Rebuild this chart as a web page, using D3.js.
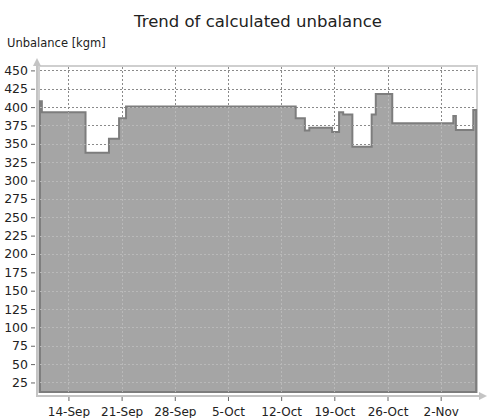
<!DOCTYPE html>
<html>
<head>
<meta charset="utf-8">
<script src="https://d3js.org/d3.v7.min.js"></script>
<style>
body { margin: 0; background: #fff; }
svg { font-family: "DejaVu Sans", Verdana, sans-serif; }
</style>
</head>
<body>
<svg id="chart" width="489" height="418"></svg>
<script>
// step change times and the unbalance value from that time on
var stepTimes = ['2020-09-10T06:00', '2020-09-10T12:00', '2020-09-16T06:00', '2020-09-19T08:00',
  '2020-09-20T16:00', '2020-09-21T14:00', '2020-10-13T22:00', '2020-10-15T03:00',
  '2020-10-15T17:00', '2020-10-18T17:00', '2020-10-19T15:00', '2020-10-20T04:00',
  '2020-10-21T09:00', '2020-10-23T22:00', '2020-10-24T11:00', '2020-10-26T15:00',
  '2020-11-03T16:00', '2020-11-04T00:00', '2020-11-06T07:00', '2020-11-06T16:00']
var stepValues = [408, 393, 338, 357, 385, 401, 385, 368, 372, 366, 393, 390,
  346, 390, 418, 378, 388, 369, 396, 396]
var xTickLabels = ['14-Sep', '21-Sep', '28-Sep', '5-Oct', '12-Oct', '19-Oct', '26-Oct', '2-Nov']
var yTicks = [25, 50, 75, 100, 125, 150, 175, 200, 225, 250, 275, 300, 325, 350, 375, 400, 425, 450]

var parseTime = d3.timeParse('%Y-%m-%dT%H:%M')
var data = stepTimes.map(function (t, i) { return { date: parseTime(t), value: stepValues[i] } })
var tickDates = xTickLabels.map(function (s) { return d3.timeParse('%d-%b-%Y')(s + '-2020') })

var pLeft = 39, pRight = 477, pTop = 66, pBottom = 392

var x = d3.scaleTime()
  .domain([parseTime('2020-09-10T03:00'), parseTime('2020-11-06T18:45')])
  .range([pLeft, pRight])
var y = d3.scaleLinear().domain([12, 456]).range([pBottom, pTop])

var svg = d3.select('#chart')

// title and y label
svg.append('text')
  .attr('x', 258).attr('y', 27)
  .attr('text-anchor', 'middle')
  .attr('font-size', 16.5)
  .attr('fill', '#222')
  .text('Trend of calculated unbalance')

svg.append('text')
  .attr('x', 7).attr('y', 47)
  .attr('font-size', 11.5)
  .attr('fill', '#222')
  .text('Unbalance [kgm]')

// plot border
svg.append('rect')
  .attr('x', pLeft).attr('y', pTop)
  .attr('width', pRight - pLeft).attr('height', pBottom - pTop)
  .attr('fill', '#fff')
  .attr('stroke', '#cfcfcf')
  .attr('stroke-width', 2)

function drawGrid(g, color) {
  g.selectAll('.hg').data(yTicks).enter().append('line')
    .attr('x1', pLeft + 1).attr('x2', pRight - 1)
    .attr('y1', function (d) { return Math.round(y(d)) + 0.5 })
    .attr('y2', function (d) { return Math.round(y(d)) + 0.5 })
  g.selectAll('.vg').data(tickDates).enter().append('line')
    .attr('y1', pTop + 1).attr('y2', pBottom)
    .attr('x1', function (d) { return Math.round(x(d)) + 0.5 })
    .attr('x2', function (d) { return Math.round(x(d)) + 0.5 })
  g.selectAll('line')
    .attr('stroke', color)
    .attr('stroke-width', 1)
    .attr('stroke-dasharray', '2,2')
}

drawGrid(svg.append('g'), '#8a8a8a')

var area = d3.area()
  .curve(d3.curveStepAfter)
  .x(function (d) { return x(d.date) })
  .y0(y(12))
  .y1(function (d) { return y(d.value) })

svg.append('clipPath').attr('id', 'areaclip')
  .append('path').datum(data).attr('d', area)

svg.append('path')
  .datum(data)
  .attr('d', area)
  .attr('fill', '#a5a5a5')
  .attr('stroke', '#7d7d7d')
  .attr('stroke-width', 2)

drawGrid(svg.append('g').attr('clip-path', 'url(#areaclip)'), '#b9b9b9')

// axis lines with arrows
svg.append('defs').append('marker')
  .attr('id', 'arrow')
  .attr('viewBox', '0 0 10 10')
  .attr('refX', 5).attr('refY', 5)
  .attr('markerWidth', 4).attr('markerHeight', 5)
  .attr('orient', 'auto')
  .append('path').attr('d', 'M0,0L10,5L0,10z').attr('fill', '#c4c4c4')

svg.append('line')
  .attr('x1', 37).attr('x2', 37).attr('y1', 396).attr('y2', 62)
  .attr('stroke', '#c4c4c4').attr('stroke-width', 2)
  .attr('marker-end', 'url(#arrow)')
svg.append('line')
  .attr('x1', 36).attr('x2', 483).attr('y1', 396).attr('y2', 396)
  .attr('stroke', '#c4c4c4').attr('stroke-width', 2)
  .attr('marker-end', 'url(#arrow)')

// axes
var yAxis = d3.axisLeft(y).tickValues(yTicks).tickSize(4).tickPadding(3)
var yg = svg.append('g').attr('transform', 'translate(35,0)').call(yAxis)
yg.select('.domain').remove()
yg.selectAll('text').attr('font-size', 12.5).attr('fill', '#222').attr('font-family', 'DejaVu Sans')
yg.selectAll('line').attr('stroke', '#666')

var xAxis = d3.axisBottom(x).tickValues(tickDates)
  .tickFormat(function (d, i) { return xTickLabels[i] })
  .tickSize(4).tickPadding(6)
var xg = svg.append('g').attr('transform', 'translate(0,397)').call(xAxis)
xg.select('.domain').remove()
xg.selectAll('text').attr('font-size', 12).attr('fill', '#222').attr('font-family', 'DejaVu Sans')
xg.selectAll('line').attr('stroke', '#666')
</script>
</body>
</html>
